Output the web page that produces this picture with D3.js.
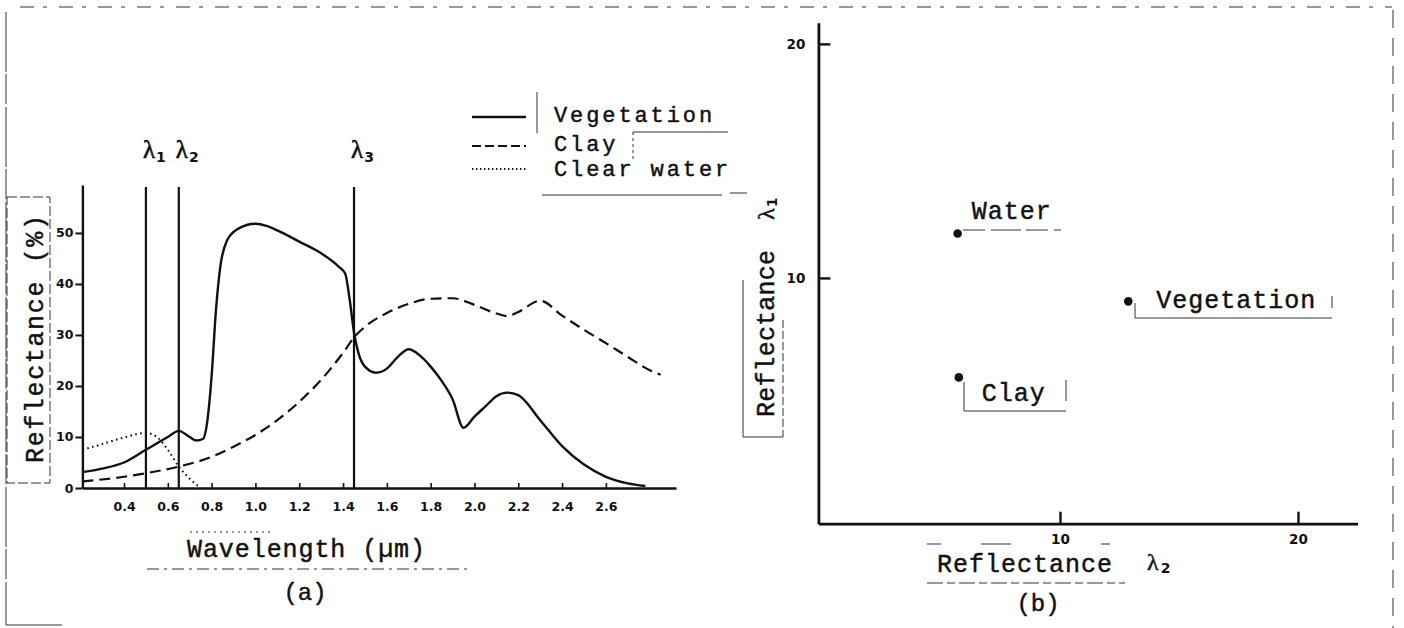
<!DOCTYPE html>
<html>
<head>
<meta charset="utf-8">
<script src="https://cdn.jsdelivr.net/npm/d3@7/dist/d3.min.js"></script>
<style>
  body { margin: 0; background: #fff; }
  svg { display: block; }
</style>
</head>
<body>
<svg id="chart"></svg>
<script>
const width = 1404;
const height = 628;
const monoFont = '"Liberation Mono", "DejaVu Sans Mono", monospace';
const tickFont = '"DejaVu Sans", "Liberation Sans", sans-serif';
const greekFont = '"Liberation Serif", "DejaVu Serif", serif';
const ink = '#111';

// ---- data, panel (a): reflectance (%) vs wavelength (um)
const vegetation = [
    [0.21, 3.1], [0.3, 3.8], [0.4, 5.0], [0.5, 7.5], [0.6, 10.0], [0.65, 11.2],
    [0.7, 10.0], [0.73, 9.3], [0.76, 9.6], [0.78, 13], [0.8, 22], [0.82, 35],
    [0.84, 43.5], [0.87, 48.5], [0.92, 50.8], [1.0, 51.8], [1.05, 51.4], [1.1, 50.5],
    [1.2, 48.3], [1.3, 46.0], [1.38, 43.4], [1.41, 42.0], [1.43, 37], [1.45, 30.5],
    [1.47, 26.5], [1.5, 23.8], [1.55, 22.6], [1.6, 23.4], [1.65, 25.7], [1.7, 27.2],
    [1.75, 26.0], [1.8, 23.8], [1.85, 21.0], [1.9, 17.4], [1.95, 11.8], [2.0, 14.0],
    [2.05, 16.0], [2.1, 18.0], [2.15, 18.7], [2.2, 18.2], [2.3, 13.3], [2.4, 8.2],
    [2.5, 4.6], [2.6, 2.2], [2.7, 0.9], [2.78, 0.4]
];
const clay = [
    [0.21, 1.3], [0.4, 2.2], [0.5, 2.9], [0.65, 4.2], [0.8, 6.1], [0.9, 8.1],
    [1.0, 10.4], [1.1, 13.3], [1.2, 16.9], [1.3, 21.2], [1.4, 26.5], [1.45, 29.5],
    [1.5, 31.6], [1.6, 34.3], [1.7, 36.1], [1.8, 37.1], [1.9, 37.2], [2.0, 35.9],
    [2.1, 34.2], [2.15, 33.7], [2.2, 34.5], [2.3, 36.7], [2.4, 33.8], [2.5, 31.0],
    [2.6, 28.4], [2.7, 25.7], [2.8, 23.1], [2.85, 22.2]
];
const clearWater = [
    [0.21, 7.5], [0.3, 8.6], [0.4, 9.9], [0.5, 10.8], [0.55, 10.0], [0.6, 7.5],
    [0.65, 4.2], [0.7, 1.8], [0.75, 0]
];
const seriesNames = ['Vegetation', 'Clay', 'Clear water'];
const bands = [
    {name: '1', wl: 0.5},
    {name: '2', wl: 0.65},
    {name: '3', wl: 1.45}
];
const wlTicks = [0.4, 0.6, 0.8, 1.0, 1.2, 1.4, 1.6, 1.8, 2.0, 2.2, 2.4, 2.6];
const reflTicks = [0, 10, 20, 30, 40, 50];

// ---- data, panel (b): reflectance at lambda2 vs lambda1
const pointNames = ['Water', 'Vegetation', 'Clay'];
const pointL2 = [5.7, 12.87, 5.75];
const pointL1 = [11.9, 9.0, 5.75];
const bTicks = [10, 20];

const svg = d3.select('#chart').attr('width', width).attr('height', height);
svg.append('rect').attr('width', width).attr('height', height).attr('fill', '#fff');

// scan / paste-up marks around the figure
const marks = svg.append('g').attr('fill', 'none').attr('stroke', '#333').attr('stroke-width', 1);
function mark(x1, y1, x2, y2, dash) {
    marks.append('line')
        .attr('x1', x1).attr('y1', y1).attr('x2', x2).attr('y2', y2)
        .attr('stroke-dasharray', dash || null);
}
mark(6, 12, 6, 625, '60,2,30,3');
mark(20, 7, 1392, 7, '14,9,4,12');
mark(1393, 10, 1393, 628, '18,10');
mark(6, 625, 62, 625);

function typewriter(sel, size) {
    return sel.attr('font-family', monoFont)
        .attr('font-size', size)
        .attr('fill', ink)
        .attr('stroke', ink)
        .attr('stroke-width', 0.45);
}

function styleAxis(g, axisWidth, tickWidth, fontSize) {
    g.select('.domain').attr('stroke', ink).attr('stroke-width', axisWidth);
    g.selectAll('line').attr('stroke', ink).attr('stroke-width', tickWidth);
    g.selectAll('text').attr('font-family', tickFont).attr('font-weight', 'bold')
        .attr('font-size', fontSize).attr('fill', ink);
}

// ===================== panel (a) =====================
const xA = d3.scaleLinear().domain([0.21, 2.92]).range([82.4, 676]);
const yA = d3.scaleLinear().domain([0, 59.4]).range([488, 185]);

const gA = svg.append('g');

gA.append('g')
    .attr('transform', 'translate(' + xA(0.21) + ',0)')
    .call(d3.axisLeft(yA).tickValues(reflTicks).tickSizeInner(7).tickSizeOuter(0).tickPadding(2))
    .call(function (g) { styleAxis(g, 2.4, 2, 12.5); });

gA.append('g')
    .attr('transform', 'translate(0,' + yA(0) + ')')
    .call(d3.axisBottom(xA).tickValues(wlTicks).tickSizeInner(-5).tickSizeOuter(0)
        .tickPadding(14).tickFormat(d3.format('.1f')))
    .call(function (g) { styleAxis(g, 2.4, 1.6, 12.5); });

// band lines
gA.selectAll('.band')
    .data(bands)
    .join('line')
    .attr('class', 'band')
    .attr('x1', function (d) { return xA(d.wl); })
    .attr('x2', function (d) { return xA(d.wl); })
    .attr('y1', yA(0))
    .attr('y2', yA(59))
    .attr('stroke', ink)
    .attr('stroke-width', 2.2);

const bandLabels = gA.selectAll('.bandlabel')
    .data(bands)
    .join('text')
    .attr('class', 'bandlabel')
    .attr('x', function (d) { return xA(d.wl) - 3; })
    .attr('y', 158)
    .attr('font-family', greekFont)
    .attr('font-size', 25)
    .attr('fill', ink)
    .attr('stroke', ink)
    .attr('stroke-width', 0.6)
    .text('λ');
bandLabels.append('tspan')
    .attr('dy', 4)
    .attr('dx', 1)
    .attr('font-size', 14)
    .attr('font-family', tickFont)
    .attr('font-weight', 'bold')
    .attr('stroke-width', 0)
    .text(function (d) { return d.name; });

const curve = d3.line()
    .x(function (d) { return xA(d[0]); })
    .y(function (d) { return yA(d[1]); })
    .curve(d3.curveMonotoneX);

const series = [
    {values: vegetation, dash: null, sw: 2.4},
    {values: clay, dash: '11,6', sw: 2.2},
    {values: clearWater, dash: '1.6,3.4', sw: 2}
];

gA.selectAll('.series')
    .data(series)
    .join('path')
    .attr('class', 'series')
    .attr('d', function (d) { return curve(d.values); })
    .attr('fill', 'none')
    .attr('stroke', ink)
    .attr('stroke-width', function (d) { return d.sw; })
    .attr('stroke-dasharray', function (d) { return d.dash; });

// legend
const legendY = [117, 146, 169];
const legendBase = [122, 151, 176];
const legend = gA.selectAll('.legend')
    .data(series)
    .join('g')
    .attr('class', 'legend');
legend.append('line')
    .attr('x1', 472).attr('x2', 526)
    .attr('y1', function (d, i) { return legendY[i]; })
    .attr('y2', function (d, i) { return legendY[i]; })
    .attr('stroke', ink)
    .attr('stroke-width', function (d) { return d.sw; })
    .attr('stroke-dasharray', function (d) { return d.dash === null ? null : (d.sw > 2.1 ? '9,4' : '1.4,2.6'); });
legend.append('text')
    .attr('x', 554)
    .attr('y', function (d, i) { return legendBase[i]; })
    .call(typewriter, 22)
    .attr('letter-spacing', 2.9)
    .text(function (d, i) { return seriesNames[i]; });

mark(537, 92, 537, 133);
mark(633, 132, 728, 132);
mark(633, 132, 633, 160, '3,3');
mark(542, 195, 722, 195);

// axis titles
gA.append('text')
    .attr('transform', 'translate(43,339) rotate(-90)')
    .attr('text-anchor', 'middle')
    .call(typewriter, 25)
    .attr('textLength', 248)
    .attr('lengthAdjust', 'spacing')
    .text('Reflectance (%)');
marks.append('rect')
    .attr('x', 7).attr('y', 197).attr('width', 43).attr('height', 286)
    .attr('stroke-dasharray', '10,3');

gA.append('text')
    .attr('x', 187)
    .attr('y', 557)
    .call(typewriter, 25)
    .attr('textLength', 238)
    .attr('lengthAdjust', 'spacing')
    .text('Wavelength (µm)');
mark(147, 569, 470, 569, '12,5,3,5');
mark(190, 532, 270, 532, '2,4');

gA.append('text')
    .attr('x', 305)
    .attr('y', 600)
    .attr('text-anchor', 'middle')
    .call(typewriter, 24)
    .text('(a)');

// ===================== panel (b) =====================
const xB = d3.scaleLinear().domain([-0.15, 22.5]).range([818.4, 1357.5]);
const yB = d3.scaleLinear().domain([-0.5, 20.9]).range([523.7, 22.8]);

const gB = svg.append('g');

gB.append('g')
    .attr('transform', 'translate(' + xB(-0.15) + ',0)')
    .call(d3.axisLeft(yB).tickValues(bTicks).tickSizeInner(-12).tickSizeOuter(0).tickPadding(13))
    .call(function (g) { styleAxis(g, 2.8, 2.4, 13.5); });

gB.append('g')
    .attr('transform', 'translate(0,' + yB(-0.5) + ')')
    .call(d3.axisBottom(xB).tickValues(bTicks).tickSizeInner(-12).tickSizeOuter(0).tickPadding(11))
    .call(function (g) { styleAxis(g, 2.8, 2.4, 13.5); });

const points = pointNames.map(function (name, i) {
    return {name: name, x: pointL2[i], y: pointL1[i]};
});

// label placement relative to each point
const labelDx = {Water: 14, Vegetation: 28, Clay: 23};
const labelDy = {Water: -14, Vegetation: 7, Clay: 24};

gB.selectAll('.pt')
    .data(points)
    .join('circle')
    .attr('class', 'pt')
    .attr('cx', function (d) { return xB(d.x); })
    .attr('cy', function (d) { return yB(d.y); })
    .attr('r', 4.3)
    .attr('fill', ink);

gB.selectAll('.ptlabel')
    .data(points)
    .join('text')
    .attr('class', 'ptlabel')
    .attr('x', function (d) { return xB(d.x) + labelDx[d.name]; })
    .attr('y', function (d) { return yB(d.y) + labelDy[d.name]; })
    .call(typewriter, 25)
    .attr('letter-spacing', 1)
    .text(function (d) { return d.name; });

// paste-up brackets under the point labels
mark(963, 230, 1061, 230, '22,6,30,5');
mark(1135, 303, 1135, 318);
mark(1135, 318, 1332, 318);
mark(1332, 296, 1332, 308);
mark(964, 382, 964, 411);
mark(964, 411, 1066, 411);
mark(1066, 380, 1066, 401);

// axis titles
gB.append('text')
    .attr('x', 937)
    .attr('y', 572)
    .call(typewriter, 25)
    .attr('textLength', 175)
    .attr('lengthAdjust', 'spacing')
    .text('Reflectance');
gB.append('text')
    .attr('x', 1147)
    .attr('y', 570)
    .attr('font-family', greekFont)
    .attr('font-size', 24)
    .attr('fill', ink)
    .attr('stroke', ink)
    .attr('stroke-width', 0.5)
    .text('λ')
    .append('tspan')
    .attr('dy', 3)
    .attr('dx', 2)
    .attr('font-size', 14)
    .attr('font-family', tickFont)
    .attr('font-weight', 'bold')
    .attr('stroke-width', 0)
    .text('2');
mark(927, 583, 1125, 583, '16,4,8,4');
mark(927, 544, 1110, 544, '14,40,30,90');

gB.append('text')
    .attr('x', 1038)
    .attr('y', 611)
    .attr('text-anchor', 'middle')
    .call(typewriter, 24)
    .text('(b)');

gB.append('text')
    .attr('transform', 'translate(774,333.5) rotate(-90)')
    .attr('text-anchor', 'middle')
    .call(typewriter, 25)
    .attr('textLength', 167)
    .attr('lengthAdjust', 'spacing')
    .text('Reflectance');
gB.append('text')
    .attr('transform', 'translate(774,220) rotate(-90)')
    .attr('font-family', greekFont)
    .attr('font-size', 24)
    .attr('fill', ink)
    .attr('stroke', ink)
    .attr('stroke-width', 0.5)
    .text('λ')
    .append('tspan')
    .attr('dy', 3)
    .attr('dx', 1)
    .attr('font-size', 14)
    .attr('font-family', tickFont)
    .attr('font-weight', 'bold')
    .attr('stroke-width', 0)
    .text('1');
mark(743, 280, 743, 437);
mark(743, 437, 783, 437);
mark(783, 320, 783, 437, '8,3');
mark(730, 193, 747, 193);
</script>
</body>
</html>
